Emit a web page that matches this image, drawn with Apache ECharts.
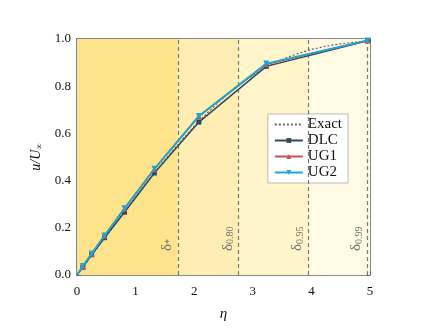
<!DOCTYPE html>
<html><head><meta charset="utf-8">
<script src="https://cdn.jsdelivr.net/npm/echarts@6/dist/echarts.min.js"></script>
<style>html,body{margin:0;padding:0;background:#fff}#c{width:431px;height:330px}</style>
</head><body><div id="c"></div>
<script>
// Blasius exact solution f'(eta)
const exactEta = [0,0.2,0.4,0.6,0.8,1.0,1.2,1.4,1.6,1.8,2.0,2.2,2.4,2.6,2.8,3.0,3.2,3.4,3.6,3.8,4.0,4.2,4.4,4.6,4.8,5.0];
const exactU   = [0,0.0664,0.1328,0.1989,0.2647,0.3298,0.3938,0.4563,0.5168,0.5748,0.6298,0.6813,0.7290,0.7725,0.8115,0.8460,0.8761,0.9018,0.9233,0.9411,0.9555,0.9670,0.9759,0.9827,0.9878,0.9916];
const eta = [0, 0.10, 0.25, 0.47, 0.81, 1.32, 2.08, 3.23, 4.96];
const dlc = [0, 0.033, 0.086, 0.158, 0.266, 0.432, 0.648, 0.884, 0.993];
const ug1 = [0, 0.037, 0.090, 0.166, 0.281, 0.448, 0.672, 0.893, 0.994];
const ug2 = [0, 0.038, 0.091, 0.167, 0.283, 0.450, 0.674, 0.896, 0.994];
const deltaPos = [1.72, 2.76, 3.94, 4.95];
const deltaNames = ['δ*', 'δ0.80', 'δ0.95', 'δ0.99'];
const bandColors = ['#fde48c', '#feeeb4', '#fff4ca', '#fffae4'];

const serif = "'Liberation Serif', 'Times New Roman', serif";
function pts(xs, ys){ return xs.map((x,i)=> i===0 ? {value:[x,ys[i]], symbol:'none'} : [x, ys[i]]); }
const bandEdges = [0].concat(deltaPos.slice(0,3)).concat([5]);
const bands = [];
for (let i=0;i<4;i++) bands.push([{xAxis: bandEdges[i], itemStyle:{color:bandColors[i]}},{xAxis: bandEdges[i+1]}]);

function deltaLabel(n){
  if (n==='δ*') return '{d|δ}{s|*}';
  return '{d|δ}{s|' + n.slice(1) + '}';
}

const chart = echarts.init(document.getElementById('c'), null, {renderer:'canvas'});
const axisCommon = {
  axisLine:{show:true, onZero:false, lineStyle:{color:'#666', width:1.6}},
  axisTick:{show:true, inside:true, length:4, lineStyle:{color:'#666'}},
  minorTick:{show:true, splitNumber:2, length:3, lineStyle:{color:'#666'}},
  splitLine:{show:false}
};
chart.setOption({
  animation:false,
  grid:{left:77, top:39, right:61, bottom:55},
  legend:{
    orient:'vertical', right:83, top:114, padding:[3,6,3,6], itemGap:1,
    backgroundColor:'#fff', borderColor:'#aaa', borderWidth:0.8,
    itemWidth:28, itemHeight:6,
    textStyle:{fontFamily:serif, fontSize:15, lineHeight:15, color:'#111'},
    data:[{name:'Exact', itemStyle:{opacity:0}},'DLC','UG1','UG2']
  },
  xAxis:[
    Object.assign({type:'value', min:0, max:5, interval:1, position:'bottom',
      name:'η', nameLocation:'middle', nameGap:32,
      nameTextStyle:{fontFamily:serif, fontStyle:'italic', fontSize:15, color:'#111'},
      axisLabel:{fontFamily:serif, fontSize:13, color:'#111', margin:10}}, axisCommon),
    Object.assign({type:'value', min:0, max:5, interval:1, position:'top', axisLabel:{show:false}}, axisCommon)
  ],
  yAxis:[
    Object.assign({type:'value', min:0, max:1, interval:0.2, position:'left',
      name:'{i|u/U}{s|∞}', nameLocation:'middle', nameGap:33,
      nameTextStyle:{fontFamily:serif, fontStyle:'italic', fontSize:14, color:'#111',
        rich:{i:{fontFamily:serif, fontStyle:'italic', fontSize:14, color:'#111'},
              s:{fontFamily:serif, fontStyle:'italic', fontSize:9, color:'#111', verticalAlign:'bottom', padding:[6,0,0,0]}}},
      axisLabel:{fontFamily:serif, fontSize:13, color:'#111', margin:6, formatter:v=>v.toFixed(1)}}, axisCommon),
    Object.assign({type:'value', min:0, max:1, interval:0.2, position:'right', axisLabel:{show:false}}, axisCommon)
  ],
  series:[
    {name:'bands', type:'line', data:[], silent:true, z:0,
      markArea:{silent:true, data:bands},
      markLine:{silent:true, symbol:['none','none'],
        lineStyle:{color:'#777', type:[4,3], width:1.2},
        label:{show:true, position:'insideStartTop', distance:[24,3], color:'#777',
          fontFamily:serif, formatter:p=>deltaLabel(deltaNames[p.dataIndex]),
          rich:{d:{fontFamily:serif, fontSize:15, color:'#6f6f6f'}, s:{fontFamily:serif, fontSize:10, color:'#6f6f6f', verticalAlign:'bottom', padding:[6,0,0,0]}}},
        data: deltaPos.map(x=>({xAxis:x}))
      }
    },
    {name:'Exact', type:'line', data:exactEta.map((x,i)=>[x,exactU[i]]), showSymbol:false, symbol:'none',
      lineStyle:{color:'#666', type:[2,2], width:1.2}, itemStyle:{color:'#666'}, z:5},
    {name:'DLC', type:'line', data:pts(eta,dlc), symbol:'rect', symbolSize:5,
      lineStyle:{color:'#2f4a58', width:1.5}, itemStyle:{color:'#2f4a58'}, z:6},
    {name:'UG1', type:'line', data:pts(eta,ug1), symbol:'triangle', symbolSize:6,
      lineStyle:{color:'#c8504f', width:1.5}, itemStyle:{color:'#c8504f'}, z:7},
    {name:'UG2', type:'line', data:pts(eta,ug2), symbol:'triangle', symbolRotate:180, symbolSize:6,
      lineStyle:{color:'#1aa7d8', width:1.8}, itemStyle:{color:'#1aa7d8'}, z:8}
  ]
});
</script></body></html>
